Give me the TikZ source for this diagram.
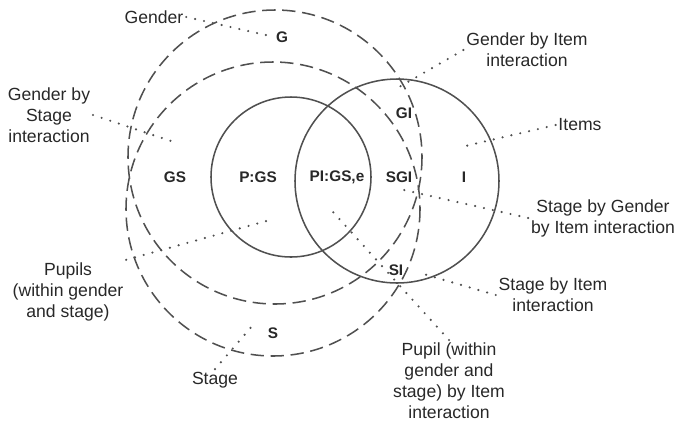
\documentclass[tikz,border=0pt]{standalone}
\usepackage{fontspec}
\setmainfont{Liberation Sans}
\definecolor{venngray}{RGB}{80,80,80}
\definecolor{labelgray}{RGB}{40,40,40}

\begin{document}
\begin{tikzpicture}[x=0.75pt, y=-0.75pt,
        region/.style={font=\fontsize{11.5}{13}\selectfont\bfseries, text=labelgray, inner sep=1pt},
        caption/.style={font=\fontsize{13.2}{15.8}\selectfont, text=labelgray, align=center, inner sep=2pt},
        leader/.style={draw=venngray, line width=1.8pt, line cap=round, dash pattern=on 0pt off 6.8pt},
        ring/.style={draw=venngray, line width=1.15pt},
        dashring/.style={ring, dash pattern=on 10pt off 5pt}]

            \useasboundingbox (0,0) rectangle (678,426);
            \pgfmathsetmacro{\midRow}{177}

            % gender and stage circles
            \draw[dashring] (275,157) circle[radius=147];
            \draw[dashring] (273,209) circle[radius=147];

            % pupils and items circles
            \draw[ring] (291,177) circle[radius=80];
            \draw[ring] (397,181) circle[radius=102];

            % labels inside the circles
            \node[region] (g) at (282,37) {G};
            \node[region] (gs) at (175,\midRow) {GS};
            \node[region] (pgs) at (258,\midRow) {P:GS};
            \node[region] (pigse) at (337,\midRow) {PI:GS,e};
            \node[region] (sgi) at (399,\midRow) {SGI};
            \node[region] (ireg) at (464,\midRow) {I};
            \node[region] (gi) at (404,113) {GI};
            \node[region] (si) at (396,270) {SI};
            \node[region] (s) at (273,333) {S};

            % names round the outside
            \node[caption] (gender) at (154,17) {Gender};
            \node[caption] (gbs) at (49,115) {Gender by\\Stage\\interaction};
            \node[caption] (gbi) at (527,50) {Gender by Item\\interaction};
            \node[caption] (items) at (580,125) {Items};
            \node[caption] (sgbi) at (603,218) {Stage by Gender\\by Item interaction};
            \node[caption] (sbi) at (553,295) {Stage by Item\\interaction};
            \node[caption] (pupilitem) at (449,381) {Pupil (within\\gender and\\stage) by Item\\interaction};
            \node[caption] (pupils) at (68,292) {Pupils\\(within gender\\and stage)};
            \node[caption] (stage) at (215,380) {Stage};

            % where the dotted lines end
            \coordinate (gbsEnd) at (177,143);
            \coordinate (gbiEnd) at (394,90);
            \coordinate (itemsEnd) at (461,147);
            \coordinate (sgbiEnd) at (404,190);
            \coordinate (sbiEnd) at (420,273);
            \coordinate (piEnd) at (333,212);
            \coordinate (pupilsEnd) at (270,220);
            \coordinate (stageEnd) at (253,325);

            % connect every name to its region with a for loop
            \foreach \from/\to in {gender.east/g.west, gbs.east/gbsEnd, gbi.west/gbiEnd,
                    items.west/itemsEnd, sgbi.west/sgbiEnd, sbi.west/sbiEnd,
                    pupilitem.north/piEnd, pupils.north east/pupilsEnd, stage.north/stageEnd}
            \draw[leader] (\from) -- (\to);

        \end{tikzpicture}
\end{document}
